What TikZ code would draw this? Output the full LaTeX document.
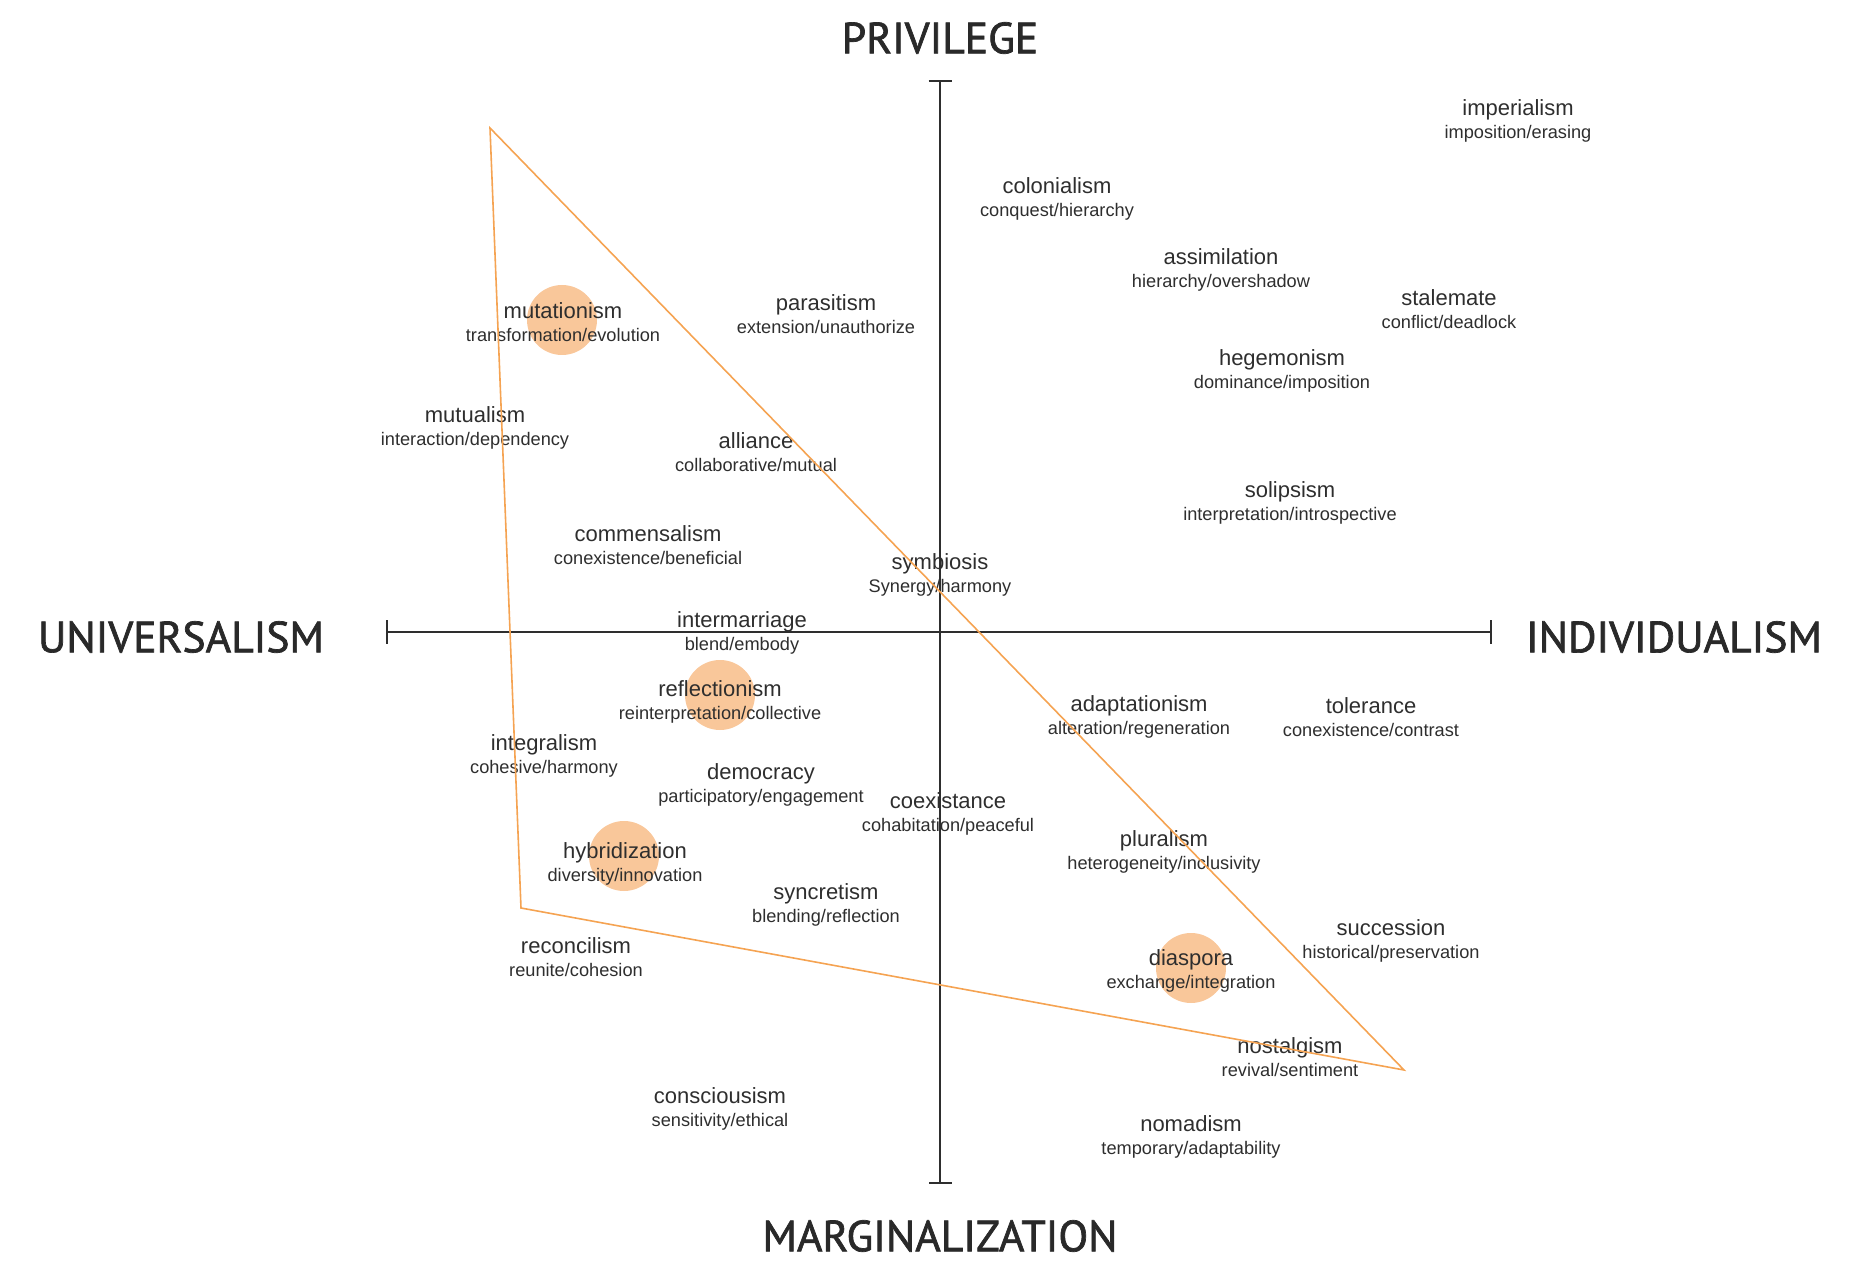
\documentclass[tikz,border=0pt]{standalone}
\usepackage{fontspec}
\setmainfont{Liberation Sans}
\newfontfamily\titlefont[FakeBold=1.6]{PT Sans}
\usepackage{xcolor}
\usetikzlibrary{arrows.meta}
\definecolor{linkorange}{HTML}{F5A352}
\definecolor{blobfill}{HTML}{F9C79A}
\definecolor{ink}{HTML}{2E2E2E}
\newcommand{\wordfont}{\fontsize{11}{11.5}\selectfont}
\newcommand{\glossfont}{\fontsize{9.1}{11.5}\selectfont}

\begin{document}
\begin{tikzpicture}[%
    x=0.5pt,
    y=-0.5pt,
    concept/.style={%
      align=center,
      text=ink,
      inner sep=0pt,
      yshift=-1.2pt,
      font=\glossfont
    },
    pole/.style={%
      text=ink!90!black,
      inner sep=0pt,
      font=\titlefont\fontsize{21.8}{24}\selectfont
    },
    blob/.style={%
      circle,
      fill=blobfill,
      minimum size=35pt,
      inner sep=0pt
    },
    axis/.style={%
      draw=ink,
      line width=1pt,
      {Bar[width=11.5pt,line width=1.2pt]}-{Bar[width=11.5pt,line width=1.2pt]}
    },
    frame/.style={%
      draw=linkorange,
      line width=0.8pt,
      line join=miter
    }
  ]
    \useasboundingbox (0,0) rectangle (1870,1262);

    % highlighted concepts
    \node[blob] (c mut) at (562,320)  {};
    \node[blob] (c ref) at (720,695)  {};
    \node[blob] (c hyb) at (624,856)  {};
    \node[blob] (c dia) at (1191,968) {};

    % poles
    \node[pole] (privilege) at (940,38)   {PRIVILEGE};
    \node[pole] (margin)    at (940,1236) {MARGINALIZATION};
    \node[pole] (univ)      at (181,637)  {UNIVERSALISM};
    \node[pole] (indiv)     at (1674,637) {INDIVIDUALISM};

    % concepts
    \node[concept] (imperialism)   at (1518,119)  {{\wordfont imperialism}\\imposition/erasing};
    \node[concept] (colonialism)   at (1057,197)  {{\wordfont colonialism}\\conquest/hierarchy};
    \node[concept] (assimilation)  at (1221,268)  {{\wordfont assimilation}\\hierarchy/overshadow};
    \node[concept] (stalemate)     at (1449,307)  {{\wordfont stalemate}\\conflict/deadlock};
    \node[concept] (parasitism)    at (826,312)   {{\wordfont parasitism}\\extension/unauthorize};
    \node[concept] (mutationism)   at (563,320)   {{\wordfont mutationism}\\transformation/evolution};
    \node[concept] (hegemonism)    at (1282,369)  {{\wordfont hegemonism}\\dominance/imposition};
    \node[concept] (mutualism)     at (475,426)   {{\wordfont mutualism}\\interaction/dependency};
    \node[concept] (alliance)      at (756,450)   {{\wordfont alliance}\\collaborative/mutual};
    \node[concept] (solipsism)     at (1290,501)  {{\wordfont solipsism}\\interpretation/introspective};
    \node[concept] (commensalism)  at (648,543)   {{\wordfont commensalism}\\conexistence/beneficial};
    \node[concept] (symbiosis)     at (940,573)   {{\wordfont symbiosis}\\Synergy/harmony};
    \node[concept] (intermarriage) at (742,631)   {{\wordfont intermarriage}\\blend/embody};
    \node[concept] (reflectionism) at (720,700)   {{\wordfont reflectionism}\\reinterpretation/collective};
    \node[concept] (adaptationism) at (1139,715)  {{\wordfont adaptationism}\\alteration/regeneration};
    \node[concept] (tolerance)     at (1371,715)  {{\wordfont tolerance}\\conexistence/contrast};
    \node[concept] (integralism)   at (544,754)   {{\wordfont integralism}\\cohesive/harmony};
    \node[concept] (democracy)     at (761,783)   {{\wordfont democracy}\\participatory/engagement};
    \node[concept] (coexistance)   at (948,812)   {{\wordfont coexistance}\\cohabitation/peaceful};
    \node[concept] (pluralism)     at (1164,850)  {{\wordfont pluralism}\\heterogeneity/inclusivity};
    \node[concept] (hybridization) at (625,862)   {{\wordfont hybridization}\\diversity/innovation};
    \node[concept] (syncretism)    at (826,903)   {{\wordfont syncretism}\\blending/reflection};
    \node[concept] (succession)    at (1391,939)  {{\wordfont succession}\\historical/preservation};
    \node[concept] (reconcilism)   at (576,955)   {{\wordfont reconcilism}\\reunite/cohesion};
    \node[concept] (diaspora)      at (1191,969)  {{\wordfont diaspora}\\exchange/integration};
    \node[concept] (nostalgism)    at (1290,1055) {{\wordfont nostalgism}\\revival/sentiment};
    \node[concept] (consciousism)  at (720,1107)  {{\wordfont consciousism}\\sensitivity/ethical};
    \node[concept] (nomadism)      at (1191,1135) {{\wordfont nomadism}\\temporary/adaptability};

    % axes
    \coordinate (ax top)    at (940,80);
    \coordinate (ax bottom) at (940,1184);
    \coordinate (ax left)   at (386,632);
    \coordinate (ax right)  at (1492,632);
    \draw[axis] (ax top) -- (ax bottom);
    \draw[axis] (ax left) -- (ax right);

    % triangle
    \coordinate (apex)      at (490,128);
    \coordinate (base left) at (521,908);
    \coordinate (tip)       at (1404,1070);
    \draw[frame] (apex) -- (base left) -- (tip) -- cycle;
  \end{tikzpicture}
\end{document}
